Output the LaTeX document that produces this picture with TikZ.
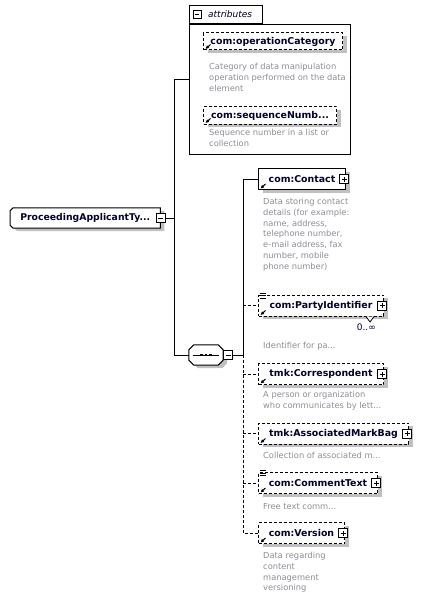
\documentclass[tikz,border=0pt]{standalone}
\usepackage{fontspec}
\setmainfont{DejaVu Sans}
\usepackage{xcolor}
\usepackage{tikz}
\usetikzlibrary{arrows.meta,positioning,calc,backgrounds,shadows}
\definecolor{labelink}{RGB}{0,0,40}
\definecolor{descgray}{RGB}{140,140,150}
\definecolor{shadowgray}{RGB}{192,192,192}
\tikzset{
  conn/.style={line width=1pt,draw=black},
  optconn/.style={line width=1pt,draw=black,dash pattern=on 3pt off 2pt},
  elembox/.style={draw=black,fill=white,line width=1pt,anchor=west,inner sep=0pt,
    minimum height=21pt,font=\fontsize{9.4}{11}\selectfont\bfseries,text=labelink,
    general shadow={fill=shadowgray,shadow xshift=4pt,shadow yshift=-3pt}},
  optbox/.style={elembox,dash pattern=on 3pt off 2pt},
  attrbox/.style={optbox,minimum height=17pt},
  outline/.style={draw=black,fill=white,line width=1pt,
    general shadow={fill=shadowgray,shadow xshift=4pt,shadow yshift=-3pt}},
  plusbox/.style={draw=black,fill=white,line width=0.8pt,minimum size=9pt,inner sep=0pt,
    path picture={
      \draw[line width=0.8pt] ([xshift=2pt]path picture bounding box.west) -- ([xshift=-2pt]path picture bounding box.east);
      \draw[line width=0.8pt] ([yshift=-2pt]path picture bounding box.north) -- ([yshift=2pt]path picture bounding box.south);}},
  minusbox/.style={draw=black,fill=white,line width=0.8pt,minimum size=9pt,inner sep=0pt,
    path picture={
      \draw[line width=0.8pt] ([xshift=2pt]path picture bounding box.west) -- ([xshift=-2pt]path picture bounding box.east);}},
  refarrow/.style={-{Latex[length=3.5pt,width=3.6pt]},line width=1pt},
  listmark/.style={line width=0.7pt},
  desc/.style={font=\fontsize{8.3}{10.8}\selectfont,text=descgray,align=left,anchor=north west,inner sep=0pt}
}

\begin{document}
\begin{tikzpicture}[
  x=1pt,y=-1pt,
  rootbox/.style={rectangle,anchor=west,inner sep=0pt,
    minimum width=150pt,minimum height=20pt,
    font=\fontsize{9.3}{11}\selectfont\bfseries,text=labelink},
  seqbox/.style={rectangle,inner sep=0pt,minimum width=34pt,minimum height=20pt},
  seqdot/.style={rectangle,fill=black,inner sep=0pt,minimum size=2.8pt},
  grpbox/.style={draw=black,line width=1pt,anchor=north west,inner sep=0pt},
  tabbox/.style={draw=black,line width=1pt,anchor=south west,inner sep=0pt,
    minimum width=73pt,minimum height=18pt},
  tabtext/.style={font=\fontsize{9}{11}\selectfont\itshape,text=labelink,anchor=west,inner sep=0pt},
  occurs/.style={font=\fontsize{9}{10}\selectfont,text=labelink,anchor=north east,inner sep=0pt}
]
\useasboundingbox (0,0) rectangle (420,599);

% root type
\node[rootbox] (root) at (10,218) {ProceedingApplicantTy...};
\node[minusbox] (rootminus) at (root.east) {};

% attributes
\node[grpbox,minimum width=161pt,minimum height=130pt] (attrs) at (189,24) {};
\node[tabbox] (attrtab) at (attrs.north west) {};
\node[minusbox,minimum size=8pt] (tabminus) at ($(attrtab.west)+(8,0)$) {};
\node[tabtext] (tablabel) at ($(attrtab.west)+(19,0)$) {attributes};

\node[attrbox,minimum width=139pt] (opcat) at (203,41.5) {com:operationCategory};
\node[desc] (opcatdesc) at (209,63) {Category of data manipulation\\operation performed on the data\\element};
\node[attrbox,minimum width=133pt] (seqnum) at (203,115.5) {com:sequenceNumb...};
\node[desc] (seqnumdesc) at (209,129) {Sequence number in a list or\\collection};

% sequence
\node[seqbox] (seq) at (206,355) {};
\node[minusbox] (seqminus) at ($(seq.east)+(5,0)$) {};

\begin{scope}[on background layer]
  \draw[outline] ($(root.north west)+(3,0)$) -- (root.north east) -- (root.south east)
    -- ($(root.south west)+(3,0)$) -- ($(root.south west)+(0,-3)$) -- ($(root.north west)+(0,3)$) -- cycle;
  \draw[outline] ($(seq.north west)+(5,0)$) -- ($(seq.north east)+(-5,0)$) -- ($(seq.north east)+(0,5)$)
    -- ($(seq.south east)+(0,-5)$) -- ($(seq.south east)+(-5,0)$) -- ($(seq.south west)+(5,0)$)
    -- ($(seq.south west)+(0,-5)$) -- ($(seq.north west)+(0,5)$) -- cycle;
\end{scope}
\draw[line width=0.8pt] ($(seq.west)+(4,0)$) -- ($(seq.east)+(-4,0)$);
\foreach \dx [count=\i] in {-4.5,0,4.5}{
  \node[seqdot] (seqdot\i) at ($(seq.center)+(\dx,0)$) {};
}

% child elements
\node[elembox,minimum width=87pt] (contact) at (258,179) {com:Contact};
\node[desc] (contactdesc) at (263,198) {Data storing contact\\details (for example:\\name, address,\\telephone number,\\e-mail address, fax\\number, mobile\\phone number)};

\node[optbox,minimum width=125pt] (partyid) at (258,305.5) {com:PartyIdentifier};
\node[occurs] (partyocc) at ($(partyid.south east)+(-8,7)$) {0..∞};
\node[desc] (partyiddesc) at (263,342) {Identifier for pa...};

\node[optbox,minimum width=125pt] (corresp) at (258,374) {tmk:Correspondent};
\node[desc] (correspdesc) at (263,391) {A person or organization\\who communicates by lett...};

\node[optbox,minimum width=150pt] (markbag) at (258,433.5) {tmk:AssociatedMarkBag};
\node[desc] (markbagdesc) at (263,452) {Collection of associated m...};

\node[optbox,minimum width=119pt] (comment) at (258,483) {com:CommentText};
\node[desc] (commentdesc) at (263,503) {Free text comm...};

\node[optbox,minimum width=86pt] (version) at (258,533) {com:Version};
\node[desc] (versiondesc) at (263,552) {Data regarding\\content\\management\\versioning};

% connectors
\coordinate (trunk) at ($(rootminus.east)+(9.5,0)$);
\coordinate (attrsin) at ($(attrtab.north west)!0.5!(attrs.south west)$);
\coordinate (spine) at ($(seqminus.east)+(10,0)$);

\draw[conn] (rootminus.east) -- (trunk);
\draw[conn] (attrsin) -| (trunk) |- (seq.west);
\draw[conn] (seqminus.east) -- (spine) |- (contact.west);
\draw[optconn] (spine) |- (version.west);
\foreach \n in {partyid,corresp,markbag,comment}{
  \draw[optconn] (spine |- \n.west) -- (\n.west);
}

% markers
\foreach \n in {contact,partyid,corresp,markbag,comment,version}{
  \node[plusbox] (\n-plus) at ($(\n.east)+(-2,0)$) {};
}
\foreach \n in {opcat,seqnum,contact,partyid,corresp,markbag,comment,version}{
  \draw[refarrow] ($(\n.south west)+(7.5,-6)$) -- ($(\n.south west)+(2.5,-1.5)$);
}
\foreach \n in {partyid,comment}{
  \foreach \dy in {-1.5,1,3.5}{
    \draw[listmark] ($(\n.north west)+(1.5,\dy)$) -- ++(6,0);
  }
}
\draw[fill=white,line width=0.8pt] ($(partyid.south east)+(-18,0)$) -- ++(4,5.5) -- ++(4,-5.5);

\end{tikzpicture}
\end{document}
